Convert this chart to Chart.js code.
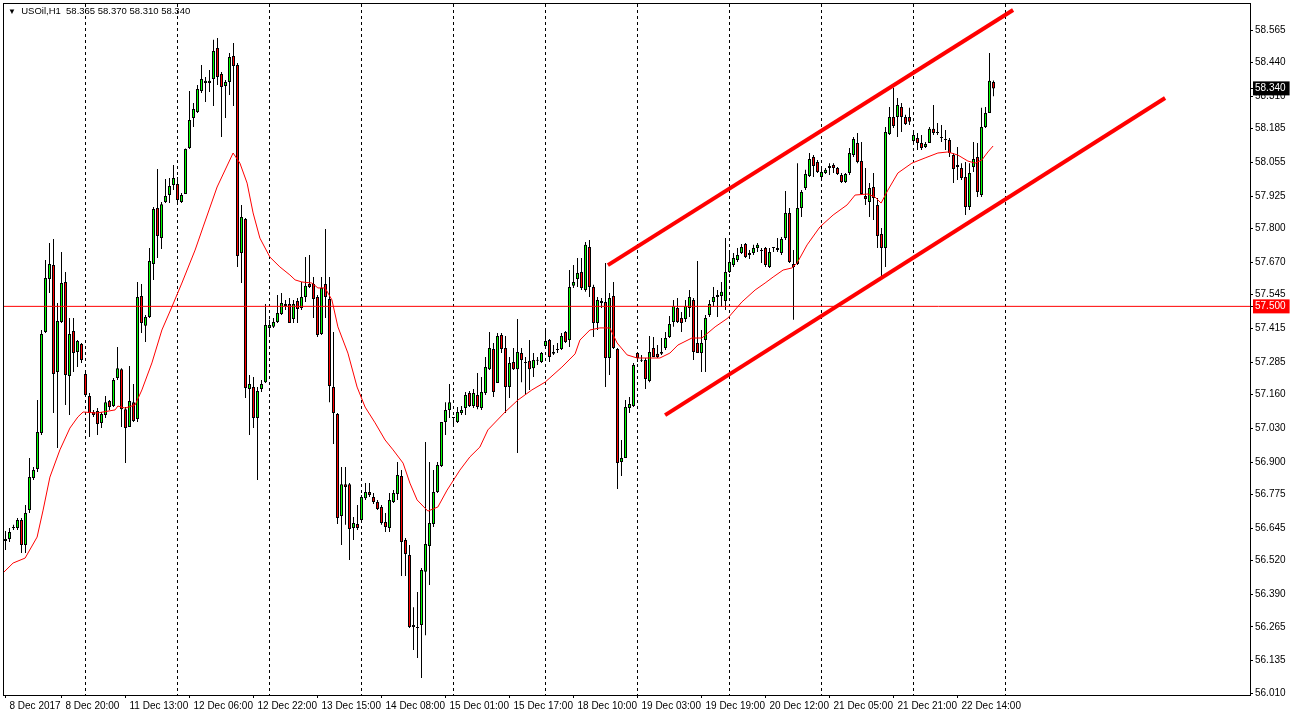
<!DOCTYPE html>
<html lang="en">
<head>
<meta charset="UTF-8">
<title>USOil,H1</title>
<script src="https://cdn.jsdelivr.net/npm/chart.js@4.4.1/dist/chart.umd.min.js"></script>
<style>
  html, body { margin: 0; padding: 0; background: #fff; }
  #wrap { position: relative; width: 1292px; height: 719px; }
  #header { position: absolute; left: 8px; top: 5px; font: 9.5px "Liberation Sans", Tahoma, sans-serif; color: #000; white-space: pre; }
  #header .tri { font-size: 8px; }
</style>
</head>
<body>
<div id="wrap">
  <canvas id="chart" width="1292" height="719"></canvas>
  <div id="header"><span class="tri">▼</span>  USOil,H1  58.365 58.370 58.310 58.340</div>
</div>
<script>
// H1 bars, index 0 = 8 Dec 2017 06:00
const opens = [
  56.604,56.604,56.646,56.646,56.677,56.580,56.715,56.839,56.873,57.012,
  57.401,57.605,57.659,57.247,57.440,57.594,57.232,57.405,57.324,57.355,
  57.239,57.155,57.093,57.097,57.051,57.081,57.135,57.116,57.224,57.258,
  57.104,57.035,57.131,57.066,57.540,57.425,57.459,57.663,57.879,57.763,
  57.902,57.929,57.968,57.972,57.902,57.933,58.110,58.226,58.249,58.330,
  58.361,58.361,58.376,58.496,58.395,58.349,58.365,58.465,58.430,57.706,
  57.837,57.182,57.189,57.070,57.182,57.208,57.417,57.421,57.440,57.471,
  57.501,57.509,57.451,57.521,57.494,57.536,57.586,57.586,57.536,57.394,
  57.586,57.528,57.189,57.085,56.692,56.815,56.815,56.646,56.661,56.677,
  56.761,56.785,56.765,56.746,56.727,56.669,56.646,56.746,56.777,56.846,
  56.600,56.542,56.272,56.261,56.272,56.477,56.577,56.661,56.785,56.885,
  57.054,57.101,57.070,57.054,57.089,57.108,57.166,57.116,57.158,57.108,
  57.166,57.258,57.336,57.205,57.390,57.340,57.189,57.286,57.258,57.320,
  57.286,57.290,57.262,57.290,57.286,57.347,57.370,57.317,57.332,57.336,
  57.401,57.370,57.579,57.605,57.632,57.563,57.729,57.575,57.436,57.521,
  57.517,57.301,57.540,57.336,56.900,56.916,57.108,57.116,57.320,57.290,
  57.293,57.212,57.340,57.317,57.317,57.340,57.382,57.440,57.494,57.455,
  57.451,57.494,57.525,57.359,57.320,57.370,57.467,57.517,57.536,57.540,
  57.521,57.632,57.659,57.679,57.706,57.740,57.706,57.706,57.725,57.713,
  57.725,57.652,57.725,57.725,57.706,57.763,57.860,57.663,57.663,57.879,
  57.956,58.002,58.076,58.056,57.999,58.014,58.033,58.045,58.033,58.006,
  57.979,58.014,58.083,58.130,58.060,57.925,57.902,57.960,57.891,57.779,
  57.725,58.164,58.230,58.230,58.268,58.230,58.230,58.137,58.149,58.130,
  58.114,58.130,58.184,58.172,58.149,58.141,58.141,58.083,58.045,58.033,
  57.999,57.883,58.037,58.076,57.929,58.191,58.245,58.365
];
const highs = [
  56.634,56.646,56.658,56.684,56.684,56.735,56.916,56.881,57.139,57.409,
  57.679,57.744,57.760,57.513,57.710,57.632,57.455,57.455,57.370,57.359,
  57.243,57.166,57.101,57.108,57.093,57.155,57.139,57.224,57.343,57.262,
  57.112,57.270,57.201,57.594,57.586,57.467,57.725,57.883,58.029,57.902,
  57.991,57.995,58.045,57.999,57.937,58.108,58.330,58.284,58.353,58.430,
  58.384,58.411,58.527,58.534,58.403,58.372,58.476,58.515,58.438,57.891,
  57.841,57.236,57.228,57.189,57.216,57.509,57.448,57.455,57.544,57.552,
  57.525,57.532,57.525,57.532,57.594,57.690,57.698,57.613,57.544,57.613,
  57.798,57.613,57.401,57.089,56.881,56.881,56.819,56.688,56.735,56.773,
  56.819,56.819,56.781,56.754,56.735,56.704,56.781,56.792,56.900,56.869,
  56.607,56.580,56.341,56.399,56.492,56.977,56.900,56.869,56.900,57.054,
  57.131,57.201,57.074,57.112,57.116,57.170,57.174,57.182,57.243,57.228,
  57.305,57.401,57.359,57.397,57.397,57.386,57.305,57.340,57.451,57.340,
  57.305,57.370,57.320,57.305,57.324,57.409,57.374,57.351,57.359,57.397,
  57.405,57.640,57.659,57.686,57.686,57.748,57.756,57.583,57.536,57.532,
  57.667,57.552,57.594,57.340,56.985,57.139,57.151,57.282,57.324,57.313,
  57.301,57.386,57.382,57.351,57.378,57.401,57.463,57.525,57.532,57.478,
  57.525,57.563,57.532,57.675,57.409,57.467,57.525,57.575,57.563,57.594,
  57.763,57.706,57.706,57.725,57.740,57.744,57.717,57.737,57.744,57.725,
  57.729,57.725,57.729,57.763,57.767,57.945,57.879,57.717,58.052,57.948,
  58.026,58.091,58.083,58.064,58.037,58.033,58.052,58.052,58.037,58.014,
  58.014,58.110,58.153,58.168,58.133,58.033,57.975,58.014,57.918,57.802,
  58.191,58.268,58.342,58.303,58.284,58.238,58.265,58.168,58.168,58.160,
  58.133,58.191,58.276,58.207,58.199,58.180,58.149,58.091,58.114,58.052,
  58.056,58.052,58.133,58.130,58.265,58.268,58.476,58.370
];
const lows = [
  56.561,56.592,56.638,56.638,56.550,56.550,56.704,56.831,56.862,57.004,
  57.397,57.552,57.089,56.954,57.436,57.120,57.081,57.247,57.266,57.282,
  57.158,56.997,57.074,57.004,57.031,57.070,57.101,57.112,57.216,57.035,
  56.896,57.035,57.054,57.054,57.397,57.363,57.455,57.602,57.686,57.721,
  57.898,57.898,57.948,57.891,57.898,57.933,58.106,58.191,58.245,58.322,
  58.288,58.326,58.272,58.353,58.153,58.226,58.315,58.272,57.652,57.590,
  57.147,57.004,57.031,56.831,57.170,57.205,57.382,57.417,57.436,57.467,
  57.486,57.436,57.436,57.436,57.486,57.517,57.571,57.455,57.382,57.390,
  57.455,57.131,56.970,56.661,56.580,56.658,56.523,56.600,56.638,56.669,
  56.754,56.765,56.738,56.715,56.658,56.631,56.631,56.742,56.754,56.461,
  56.461,56.261,56.176,56.145,56.068,56.233,56.426,56.650,56.781,56.881,
  57.004,57.070,57.035,57.051,57.081,57.081,57.112,57.108,57.104,57.101,
  57.158,57.255,57.151,57.205,57.320,57.089,57.147,57.255,56.935,57.208,
  57.158,57.178,57.228,57.274,57.282,57.343,57.286,57.313,57.320,57.332,
  57.359,57.343,57.571,57.575,57.563,57.556,57.536,57.382,57.409,57.494,
  57.189,57.236,57.336,56.796,56.846,56.916,57.089,57.112,57.286,57.286,
  57.182,57.208,57.305,57.301,57.313,57.332,57.378,57.421,57.436,57.401,
  57.440,57.459,57.293,57.320,57.247,57.247,57.459,57.498,57.459,57.498,
  57.486,57.629,57.652,57.671,57.702,57.686,57.683,57.698,57.710,57.667,
  57.652,57.648,57.710,57.710,57.698,57.756,57.667,57.448,57.659,57.844,
  57.948,57.999,57.999,58.014,57.987,58.010,58.006,58.014,58.006,57.975,
  57.975,58.006,58.076,58.052,57.929,57.891,57.844,57.833,57.725,57.602,
  57.652,58.160,58.187,58.153,58.172,58.199,58.199,58.133,58.103,58.103,
  58.110,58.130,58.160,58.160,58.133,58.103,58.076,57.975,57.987,57.987,
  57.852,57.871,58.018,57.921,57.921,58.187,58.245,58.310
];
const closes = [
  56.596,56.631,56.650,56.677,56.580,56.704,56.842,56.869,57.016,57.394,
  57.609,57.663,57.239,57.444,57.590,57.236,57.394,57.320,57.367,57.293,
  57.158,57.089,57.081,57.047,57.085,57.131,57.112,57.216,57.262,57.104,
  57.031,57.135,57.058,57.536,57.436,57.459,57.675,57.875,57.771,57.894,
  57.925,57.964,57.995,57.910,57.929,58.106,58.218,58.261,58.338,58.376,
  58.369,58.369,58.484,58.384,58.345,58.365,58.461,58.426,57.694,57.844,
  57.185,57.201,57.070,57.174,57.201,57.428,57.428,57.440,57.474,57.513,
  57.509,57.436,57.509,57.490,57.536,57.579,57.575,57.528,57.390,57.571,
  57.536,57.193,57.089,56.684,56.815,56.804,56.642,56.665,56.646,56.765,
  56.785,56.773,56.746,56.719,56.665,56.650,56.754,56.781,56.850,56.592,
  56.546,56.264,56.264,56.261,56.484,56.584,56.665,56.785,56.889,57.054,
  57.101,57.131,57.070,57.093,57.101,57.158,57.116,57.166,57.112,57.170,
  57.266,57.340,57.170,57.386,57.336,57.189,57.282,57.258,57.324,57.293,
  57.282,57.258,57.293,57.290,57.320,57.367,57.305,57.324,57.332,57.386,
  57.363,57.575,57.594,57.629,57.571,57.737,57.575,57.436,57.525,57.513,
  57.301,57.532,57.340,56.896,56.916,57.112,57.124,57.274,57.301,57.290,
  57.220,57.324,57.305,57.305,57.324,57.378,57.432,57.501,57.440,57.436,
  57.501,57.536,57.324,57.320,57.359,57.455,57.509,57.536,57.544,57.556,
  57.632,57.671,57.686,57.698,57.729,57.690,57.698,57.725,57.737,57.713,
  57.659,57.710,57.725,57.717,57.760,57.860,57.671,57.652,57.879,57.941,
  58.010,58.068,58.041,58.018,58.018,58.026,58.041,58.033,58.010,57.979,
  58.010,58.091,58.145,58.056,57.933,57.914,57.956,57.918,57.771,57.725,
  58.172,58.230,58.195,58.276,58.230,58.203,58.211,58.160,58.130,58.110,
  58.126,58.184,58.168,58.168,58.149,58.141,58.091,58.029,58.037,57.995,
  57.883,58.014,58.068,57.941,58.191,58.245,58.369,58.340
];

// moving average
const maBars = [-0.4,1.9,4.9,7.9,9.4,11.1,13.6,16.1,18.1,19.4,22.9,27.4,28.1,29.9,32.4,34.1,36.6,39.1,41.6,44.1,
  47.4,49.4,52.9,56.9,58.6,60.4,61.9,63.6,66.1,68.6,71.1,72.4,74.1,76.6,78.1,79.9,81.6,83.1,85.6,87.9,
  89.9,92.4,94.9,96.9,99.4,101.1,102.9,105.6,108.1,110.4,113.6,116.1,118.6,120.6,124.9,128.1,131.6,134.9,139.1,142.4,
  143.6,146.1,148.6,151.1,152.9,155.4,157.9,163.6,166.1,168.1,171.6,174.1,177.4,180.6,184.1,187.4,189.9,191.9,194.4,196.6,
  197.9,200.4,203.6,206.9,210.4,212.4,215.6,217.4,218.9,220.6,223.1,226.6,229.9,233.1,235.6,238.1,240.6,242.4,244.1,245.6,246.9];
const maValues = [56.476,56.511,56.530,56.611,56.715,56.842,56.947,57.031,57.074,57.093,57.089,57.101,57.116,57.108,57.120,57.178,57.282,57.409,57.498,57.590,
  57.717,57.806,57.960,58.091,58.052,57.975,57.860,57.763,57.690,57.652,57.621,57.602,57.594,57.590,57.571,57.571,57.525,57.421,57.320,57.189,
  57.112,57.051,56.985,56.947,56.896,56.819,56.754,56.711,56.727,56.792,56.869,56.920,56.958,57.024,57.093,57.139,57.178,57.208,57.266,57.317,
  57.370,57.409,57.417,57.417,57.359,57.313,57.301,57.301,57.320,57.351,57.378,57.378,57.421,57.455,57.517,57.563,57.590,57.613,57.640,57.648,
  57.667,57.737,57.806,57.852,57.891,57.929,57.933,57.921,57.898,57.948,58.014,58.052,58.072,58.091,58.095,58.083,58.060,58.052,58.064,58.095,58.118];

// channel lines and levels
const upperBars = [150.6, 251.9];
const upperPrices = [57.659, 58.642];
const lowerBars = [164.9, 289.9];
const lowerPrices = [57.081, 58.303];
const levelPrice = 57.5;
const lastPrice = 58.34;

// axes
const xLabelBars = [0, 14, 30, 46, 62, 78, 94, 110, 126, 142, 158, 174, 190, 206, 222, 238];
const xLabels = ['8 Dec 2017', '8 Dec 20:00', '11 Dec 13:00', '12 Dec 06:00', '12 Dec 22:00', '13 Dec 15:00',
  '14 Dec 08:00', '15 Dec 01:00', '15 Dec 17:00', '18 Dec 10:00', '19 Dec 03:00', '19 Dec 19:00',
  '20 Dec 12:00', '21 Dec 05:00', '21 Dec 21:00', '22 Dec 14:00'];
const gridBars = [20, 43, 66, 89, 112, 135, 158, 181, 204, 227, 250];
const yTicks = [58.565, 58.440, 58.310, 58.185, 58.055, 57.925, 57.800, 57.670, 57.545, 57.415, 57.285,
  57.160, 57.030, 56.900, 56.775, 56.645, 56.520, 56.390, 56.265, 56.135, 56.010];

const X_MIN = -0.375, X_MAX = 311.125;
const Y_MIN = 56.0024, Y_MAX = 58.6652;

const wickData = highs.map((h, i) => ({ x: i, y: [lows[i], h] }));
const bodyData = opens.map((o, i) => ({ x: i, y: [o, closes[i]] }));
const bodyColors = opens.map((o, i) => closes[i] >= o ? '#00ff00' : '#ff0000');

const frame = {
  id: 'frame',
  afterDraw(chart) {
    const a = chart.chartArea, ctx = chart.ctx;
    ctx.save();
    ctx.strokeStyle = '#000';
    ctx.lineWidth = 1;
    ctx.strokeRect(Math.round(a.left) - 0.5, Math.round(a.top) - 0.5, Math.round(a.right - a.left) + 1, Math.round(a.bottom - a.top) + 1);
    ctx.restore();
  }
};

Chart.defaults.font.family = '"Liberation Sans", Tahoma, sans-serif';
Chart.defaults.font.size = 10;
Chart.defaults.color = '#000';

new Chart(document.getElementById('chart'), {
  type: 'bar',
  data: {
    datasets: [
      { type: 'line', order: 0, data: upperBars.map((b, i) => ({ x: b, y: upperPrices[i] })),
        borderColor: '#ff0000', borderWidth: 4, pointRadius: 0 },
      { type: 'line', order: 0, data: lowerBars.map((b, i) => ({ x: b, y: lowerPrices[i] })),
        borderColor: '#ff0000', borderWidth: 4, pointRadius: 0 },
      { type: 'line', order: 0, data: [{ x: X_MIN, y: levelPrice }, { x: X_MAX, y: levelPrice }],
        borderColor: '#ff0000', borderWidth: 1, pointRadius: 0 },
      { type: 'line', order: 0, data: maBars.map((b, i) => ({ x: b, y: maValues[i] })),
        borderColor: '#ff0000', borderWidth: 1, pointRadius: 0, tension: 0 },
      { order: 1, data: bodyData, backgroundColor: bodyColors, borderColor: '#000', borderWidth: 1,
        borderSkipped: false, barThickness: 3, minBarLength: 1, inflateAmount: 0, grouped: false },
      { order: 2, data: wickData, backgroundColor: '#000', borderWidth: 0,
        barThickness: 1, inflateAmount: 0, grouped: false }
    ]
  },
  options: {
    responsive: false,
    animation: false,
    layout: { padding: { left: 4, top: 4, right: 0, bottom: 0 } },
    plugins: { legend: { display: false }, tooltip: { enabled: false } },
    scales: {
      x: {
        type: 'linear', position: 'bottom', min: X_MIN, max: X_MAX, offset: false,
        afterBuildTicks: s => { s.ticks = xLabelBars.map(v => ({ value: v })); },
        afterFit: s => { s.height = 24; s.paddingLeft = 0; s.paddingRight = 0; },
        grid: { drawOnChartArea: false, offset: false, tickLength: 3, color: '#000' },
        border: { display: false },
        ticks: { autoSkip: false, maxRotation: 0, align: 'start', labelOffset: 4, padding: 2,
          callback: v => xLabels[xLabelBars.indexOf(v)] }
      },
      xg: {
        type: 'linear', position: 'top', min: X_MIN, max: X_MAX, offset: false,
        afterBuildTicks: s => { s.ticks = gridBars.map(v => ({ value: v })); },
        afterFit: s => { s.height = 0; s.paddingLeft = 0; s.paddingRight = 0; },
        grid: { color: '#000', lineWidth: 1, drawTicks: false, offset: false },
        border: { display: false, dash: [3, 3] },
        ticks: { display: false }
      },
      y: {
        type: 'linear', position: 'right', min: Y_MIN, max: Y_MAX,
        afterBuildTicks: s => { s.ticks = yTicks.concat([levelPrice, lastPrice]).map(v => ({ value: v })); },
        afterFit: s => { s.width = 42; s.paddingTop = 0; s.paddingBottom = 0; },
        grid: { drawOnChartArea: false, tickLength: 3, color: '#000' },
        border: { display: false },
        ticks: {
          autoSkip: false, padding: 2,
          callback: v => v.toFixed(3),
          color: c => (c.tick && (c.tick.value === levelPrice || c.tick.value === lastPrice)) ? '#fff' : '#000',
          showLabelBackdrop: c => !!(c.tick && (c.tick.value === levelPrice || c.tick.value === lastPrice)),
          backdropColor: c => (c.tick && c.tick.value === lastPrice) ? '#000' : '#ff0000',
          backdropPadding: { left: 2, right: 4, top: 1, bottom: 1 }
        }
      }
    }
  },
  plugins: [frame]
});
</script>
</body>
</html>
